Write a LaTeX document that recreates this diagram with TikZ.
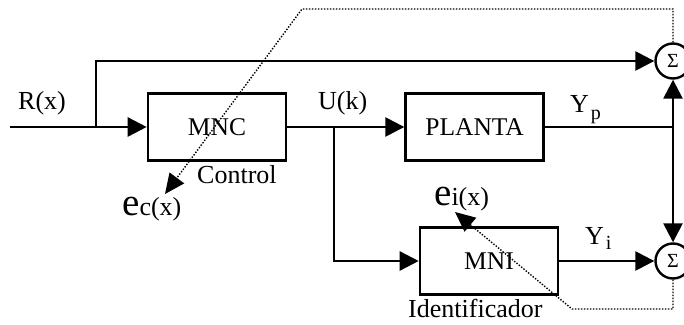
\documentclass[tikz,border=0pt]{standalone}
\usepackage{fontspec}
\setmainfont{Liberation Serif}
\usetikzlibrary{arrows.meta, positioning}

\begin{document}
\begin{tikzpicture}[
    x=1pt, y=1pt,
    node distance=117pt,
    block/.style={rectangle, draw, line width=2.6pt, minimum width=138pt, minimum height=67pt, font=\fontsize{25.5}{28}\selectfont},
    sum/.style={circle, draw, line width=2.4pt, minimum size=35pt, inner sep=0pt, font=\fontsize{20}{22}\selectfont},
    lbl/.style={inner sep=0pt, anchor=base west, font=\fontsize{26}{28}\selectfont},
    line/.style={line width=2.6pt},
    arrow/.style={line width=2.6pt, -{Triangle[length=19pt,width=19pt]}},
    err/.style={line width=1.4pt, dash pattern=on 1.4pt off 1.6pt, -{Triangle[length=20pt,width=18pt]}}
]
    \useasboundingbox (0,0) rectangle (684,324);

    \node[block] (mnc) at (217,197) {MNC};
    \node[block, right=of mnc] (planta) {PLANTA};
    \node[block] (mni) at (489,63) {MNI};
    \node[sum] (sum1) at (673,263) {Σ};
    \node[sum] (sum2) at (673,63) {Σ};

    \coordinate (in) at (10,197);
    \coordinate (split) at (96,197);
    \coordinate (uk) at (334,197);
    \coordinate (yp) at (673,197);
    \coordinate (ctop) at (302,315);
    \coordinate (cbot) at (572,15);
    \coordinate (ec) at (165,130);
    \coordinate (ei) at (455,112);

    \node[lbl] (rx) at (18,214) {R(x)};
    \node[lbl] (ukl) at (318,214) {U(k)};
    \node[lbl] (ypl) at (570,211) {Y\kern2pt\raisebox{-7pt}{\fontsize{20}{22}\selectfont p}};
    \node[lbl] (yil) at (585,80) {Y\kern2pt\raisebox{-5pt}{\fontsize{20}{22}\selectfont i}};
    \node[lbl] (ctl) at (197,140) {Control};
    \node[lbl] (idl) at (408,7) {Identificador};
    \node[lbl] (ecl) at (122,109) {{\fontsize{39}{40}\selectfont e}c(x)};
    \node[lbl] (eil) at (434,119) {{\fontsize{39}{40}\selectfont e}i(x)};

    % Arrows
    \draw[line] (in) -- (split);
    \draw[arrow] (split) -- (mnc);
    \draw[arrow] (split) |- (sum1);
    \draw[line] (mnc) -- (uk);
    \draw[arrow] (uk) -- (planta);
    \draw[arrow] (uk) |- (mni);
    \draw[line] (planta) -- (yp);
    \draw[arrow] (yp) -- (sum1);
    \draw[arrow] (yp) -- (sum2);
    \draw[arrow] (mni) -- (sum2);
    \draw[err] (sum1) |- (ctop) -- (ec);
    \draw[err] (sum2) |- (cbot) -- (ei);
\end{tikzpicture}
\end{document}
